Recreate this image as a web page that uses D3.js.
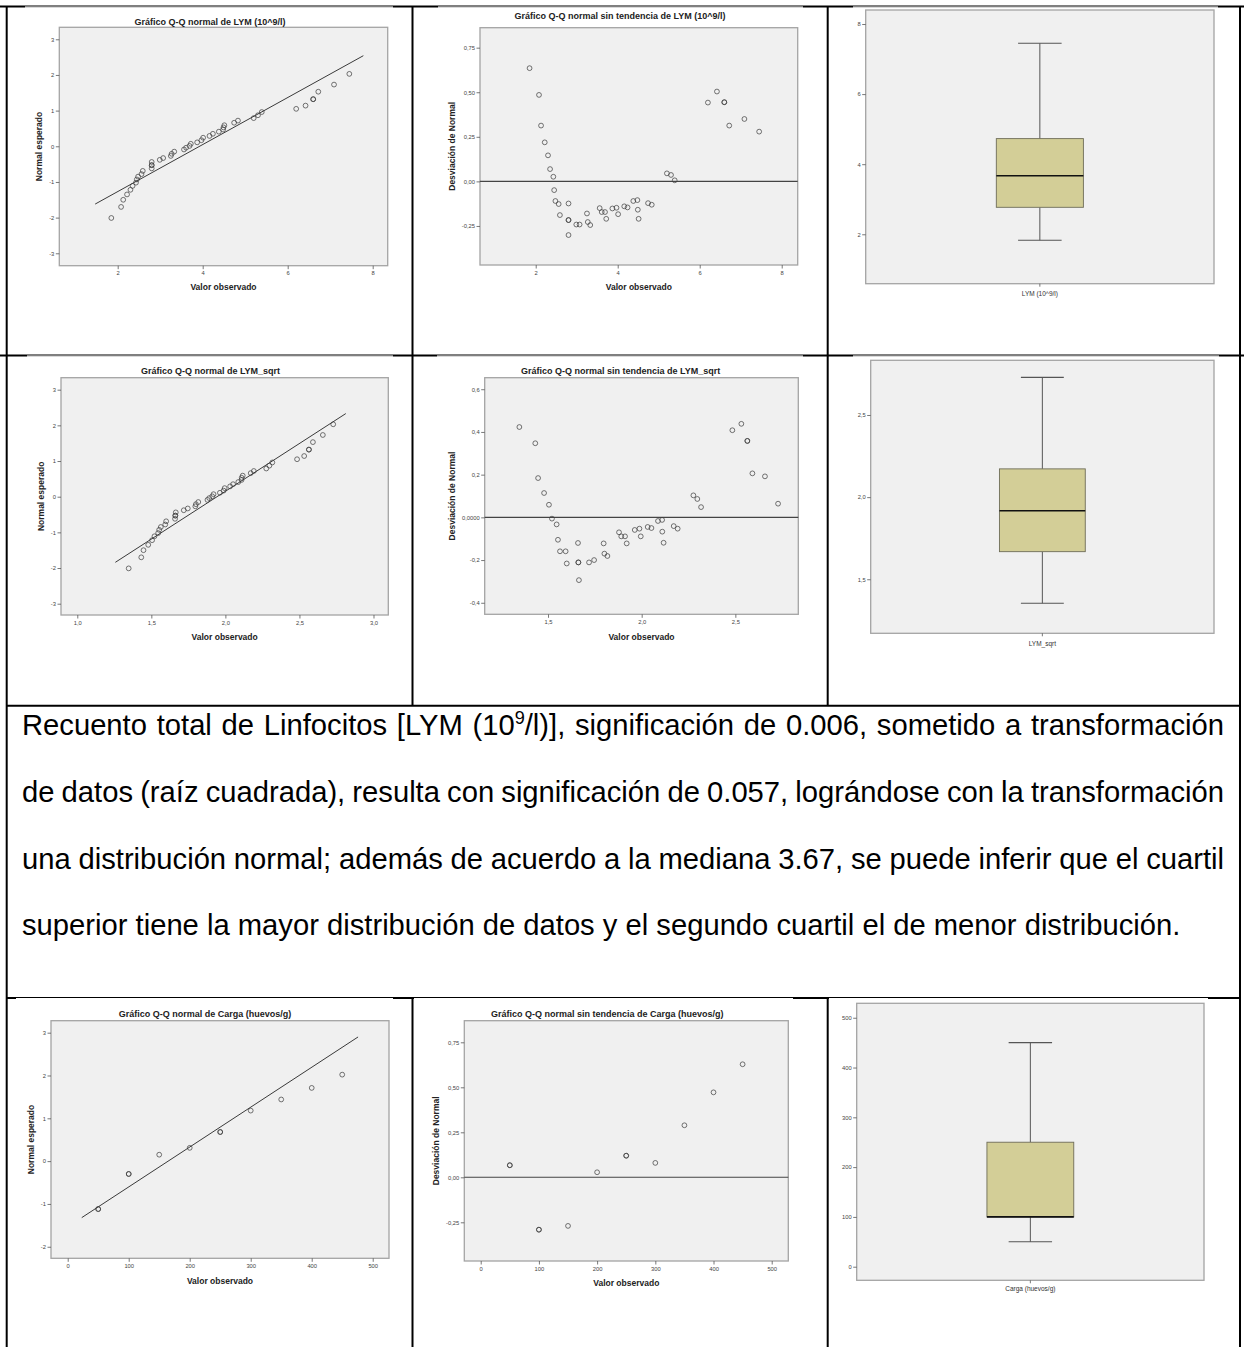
<!DOCTYPE html>
<html>
<head>
<meta charset="utf-8">
<script src="https://cdn.jsdelivr.net/npm/d3@7"></script>
<style>
  body { margin: 0; background: #fff; }
  svg { display: block; }
</style>
</head>
<body>
<script>
// ---- datos ----
// LYM (10^9/l): valor observado, normal esperado, desviacion de normal
const lymObs = [1.85, 2.08, 2.13, 2.22, 2.30, 2.35, 2.43, 2.45, 2.48, 2.56, 2.59, 2.80, 2.80, 2.80, 2.80,
  2.99, 3.07, 3.25, 3.27, 3.33, 3.56, 3.61, 3.69, 3.72, 3.87, 3.97, 4.01, 4.16, 4.24, 4.38,
  4.48, 4.49, 4.51, 4.74, 4.83, 5.20, 5.30, 5.39, 6.20, 6.42, 6.60, 6.60, 6.72, 7.09, 7.45];
const lymEsp = [-2.01, -1.70, -1.50, -1.35, -1.22, -1.11, -1.02, -0.93, -0.85, -0.78, -0.69, -0.62, -0.53, -0.53, -0.44,
  -0.38, -0.33, -0.27, -0.21, -0.15, -0.09, -0.04, 0.01, 0.07, 0.11, 0.17, 0.24, 0.29, 0.35, 0.41,
  0.47, 0.53, 0.59, 0.66, 0.72, 0.79, 0.87, 0.96, 1.05, 1.14, 1.32, 1.32, 1.53, 1.73, 2.03];
const lymDesv = [0.635, 0.485, 0.313, 0.219, 0.146, 0.069, 0.026, -0.049, -0.110, -0.127, -0.189, -0.124, -0.217, -0.217, -0.301,
  -0.242, -0.242, -0.180, -0.228, -0.245, -0.150, -0.172, -0.172, -0.210, -0.152, -0.148, -0.184, -0.140, -0.146, -0.110,
  -0.105, -0.159, -0.210, -0.122, -0.131, 0.045, 0.036, 0.006, 0.442, 0.504, 0.444, 0.444, 0.313, 0.350, 0.279];

// LYM_sqrt
const sqrtObs = [1.347, 1.432, 1.447, 1.479, 1.505, 1.521, 1.546, 1.553, 1.564, 1.594, 1.600, 1.660, 1.662, 1.662, 1.665,
  1.719, 1.746, 1.797, 1.801, 1.817, 1.879, 1.891, 1.911, 1.920, 1.963, 1.988, 1.995, 2.032, 2.052, 2.087,
  2.109, 2.110, 2.117, 2.171, 2.192, 2.276, 2.297, 2.317, 2.484, 2.532, 2.564, 2.564, 2.591, 2.658, 2.728];
const sqrtDesv = [0.423, 0.347, 0.184, 0.114, 0.059, -0.006, -0.033, -0.105, -0.159, -0.159, -0.216, -0.120, -0.211, -0.211, -0.294,
  -0.211, -0.200, -0.122, -0.170, -0.181, -0.070, -0.089, -0.089, -0.122, -0.059, -0.053, -0.089, -0.045, -0.050, -0.017,
  -0.012, -0.067, -0.119, -0.041, -0.053, 0.103, 0.086, 0.048, 0.408, 0.438, 0.358, 0.358, 0.206, 0.192, 0.064];

// Carga (huevos/g)
const cargaObs = [50, 50, 100, 100, 150, 200, 250, 250, 300, 350, 400, 450];
const cargaEsp = [-1.12, -1.12, -0.30, -0.30, 0.15, 0.31, 0.68, 0.68, 1.18, 1.44, 1.71, 2.02];
const cargaDesv = [0.067, 0.067, -0.291, -0.291, -0.270, 0.028, 0.120, 0.120, 0.080, 0.289, 0.472, 0.628];

// rectas de referencia (extremos en unidades de datos)
const lymRecta = [[1.47, -1.62], [7.78, 2.54]];
const sqrtRecta = [[1.257, -1.84], [2.813, 2.33]];
const cargaRecta = [[23, -1.32], [476, 2.90]];

// cajas: minimo, Q1, mediana, Q3, maximo
const lymCaja = [1.83, 2.77, 3.67, 4.73, 7.45];
const sqrtCaja = [1.354, 1.668, 1.917, 2.172, 2.729];
const cargaCaja = [50, 100, 100, 250, 450];

// marcas de los ejes
const qqYTicks = [-3, -2, -1, 0, 1, 2, 3];
const qqCargaYTicks = [-2, -1, 0, 1, 2, 3];
const lymXTicks = [2, 4, 6, 8];
const sqrtXTicks = [1.0, 1.5, 2.0, 2.5, 3.0];
const sqrtXLabels = ["1,0", "1,5", "2,0", "2,5", "3,0"];
const sqrtDtXTicks = [1.5, 2.0, 2.5];
const sqrtDtXLabels = ["1,5", "2,0", "2,5"];
const cargaXTicks = [0, 100, 200, 300, 400, 500];
const desvYTicks = [-0.25, 0, 0.25, 0.5, 0.75];
const desvYLabels = ["-0,25", "0,00", "0,25", "0,50", "0,75"];
const sqrtDesvYTicks = [-0.4, -0.2, 0, 0.2, 0.4, 0.6];
const sqrtDesvYLabels = ["-0,4", "-0,2", "0,0000", "0,2", "0,4", "0,6"];
const lymCajaTicks = [2, 4, 6, 8];
const sqrtCajaTicks = [1.5, 2.0, 2.5];
const sqrtCajaLabels = ["1,5", "2,0", "2,5"];
const cargaCajaTicks = [0, 100, 200, 300, 400, 500];

const parrafo = [
  [["Recuento total de Linfocitos [LYM (10"], ["9", true], ["/l)], significación de 0.006, sometido a transformación"]],
  [["de datos (raíz cuadrada), resulta con significación de 0.057, lográndose con la transformación"]],
  [["una distribución normal; además de acuerdo a la mediana 3.67, se puede inferir que el cuartil"]],
  [["superior tiene la mayor distribución de datos y el segundo cuartil el de menor distribución."]]
];

// ---- lienzo ----
const FONT = "'Liberation Sans', Arial, Helvetica, sans-serif";
const svg = d3.select("body").append("svg")
  .attr("width", 1244)
  .attr("height", 1347)
  .style("font-family", FONT);

// bordes de la tabla
const bordes = [
  [0, 6.5, 1244, 6.5], [0, 355.5, 1244, 355.5], [6.7, 705.7, 1240, 705.7], [6.7, 998, 1240, 998],
  [6.7, 6.5, 6.7, 1347], [1240, 6.5, 1240, 1347],
  [412.5, 6.5, 412.5, 705.7], [827.7, 6.5, 827.7, 705.7],
  [412.5, 998, 412.5, 1347], [827.7, 998, 827.7, 1347]
];
svg.append("g").selectAll("line")
  .data(bordes)
  .join("line")
  .attr("x1", d => d[0]).attr("y1", d => d[1])
  .attr("x2", d => d[2]).attr("y2", d => d[3])
  .attr("stroke", "#000")
  .attr("stroke-width", 2);

// las imagenes pegadas tapan media linea superior
const parches = [
  [25, 6.5, 393], [438, 6.5, 803], [853, 6.5, 1218],
  [27, 355.5, 393], [437, 355.5, 803], [853, 355.5, 1219],
  [16, 998, 393], [414, 998, 793], [829, 998, 1208]
];
svg.append("g").selectAll("rect")
  .data(parches)
  .join("rect")
  .attr("x", d => d[0]).attr("y", d => d[1])
  .attr("width", d => d[2] - d[0]).attr("height", 1.2)
  .attr("fill", "#fff");

const charts = [
  { type: "qq", title: "Gráfico Q-Q normal de LYM (10^9/l)", xs: lymObs, ys: lymEsp, recta: lymRecta,
    box: [59.3, 387.7, 27.3, 265.7], xDom: [0.626, 8.353], yDom: [-3.348, 3.336],
    xTicks: lymXTicks, yTicks: qqYTicks, ylabel: "Normal esperado",
    titlePos: [210, 24.7], xlabY: 290, ylabX: 42 },
  { type: "dt", title: "Gráfico Q-Q normal sin tendencia de LYM (10^9/l)", xs: lymObs, ys: lymDesv,
    box: [480, 797.7, 27.7, 265], xDom: [0.641, 8.39], yDom: [-0.469, 0.862],
    xTicks: lymXTicks, yTicks: desvYTicks, yLabels: desvYLabels, ylabel: "Desviación de Normal",
    titlePos: [620, 18.7], xlabY: 290, ylabX: 455 },
  { type: "box", stats: lymCaja, cat: "LYM (10^9/l)",
    box: [865.7, 1214, 10, 283.7], yDom: [0.59, 8.40], yTicks: lymCajaTicks, catY: 295.6 },
  { type: "qq", title: "Gráfico Q-Q normal de LYM_sqrt", xs: sqrtObs, ys: lymEsp, recta: sqrtRecta,
    box: [61, 388.3, 377.7, 615], xDom: [0.89, 3.10], yDom: [-3.317, 3.336],
    xTicks: sqrtXTicks, xLabels: sqrtXLabels, yTicks: qqYTicks, ylabel: "Normal esperado",
    titlePos: [210.5, 374], xlabY: 639.5, ylabX: 44 },
  { type: "dt", title: "Gráfico Q-Q normal sin tendencia de LYM_sqrt", xs: sqrtObs, ys: sqrtDesv,
    box: [484.7, 798.3, 377.7, 614.3], xDom: [1.162, 2.836], yDom: [-0.454, 0.654],
    xTicks: sqrtDtXTicks, xLabels: sqrtDtXLabels, yTicks: sqrtDesvYTicks, yLabels: sqrtDesvYLabels,
    ylabel: "Desviación de Normal", titlePos: [620.7, 374], xlabY: 639.5, ylabX: 454.7 },
  { type: "box", stats: sqrtCaja, cat: "LYM_sqrt",
    box: [870.7, 1214, 360.3, 633.3], yDom: [1.171, 2.833], yTicks: sqrtCajaTicks, yLabels: sqrtCajaLabels, catY: 645.5 },
  { type: "qq", title: "Gráfico Q-Q normal de Carga (huevos/g)", xs: cargaObs, ys: cargaEsp, recta: cargaRecta,
    box: [51, 389, 1020.7, 1258.3], xDom: [-27.4, 526.7], yDom: [-2.27, 3.28],
    xTicks: cargaXTicks, yTicks: qqCargaYTicks, ylabel: "Normal esperado",
    titlePos: [205, 1017], xlabY: 1283.7, ylabX: 33.7 },
  { type: "dt", title: "Gráfico Q-Q normal sin tendencia de Carga (huevos/g)", xs: cargaObs, ys: cargaDesv,
    box: [464.3, 788.3, 1020.7, 1261], xDom: [-28.2, 528.5], yDom: [-0.465, 0.87],
    xTicks: cargaXTicks, yTicks: desvYTicks, yLabels: desvYLabels, ylabel: "Desviación de Normal",
    titlePos: [607.3, 1017], xlabY: 1286.3, ylabX: 438.7 },
  { type: "box", stats: cargaCaja, cat: "Carga (huevos/g)",
    box: [856.7, 1204, 1003.3, 1280.3], yDom: [-27.3, 529], yTicks: cargaCajaTicks, catY: 1291.3 }
];

function styleAxis(a) {
  a.select(".domain").remove();
  a.attr("font-size", 5.8).attr("font-family", FONT);
  a.selectAll("line").attr("stroke", "#555").attr("stroke-width", 0.8);
  a.selectAll("text").attr("fill", "#444");
}

charts.forEach(c => {
  const [x0, x1, y0, y1] = c.box;
  const g = svg.append("g");

  g.append("rect")
    .attr("x", x0).attr("y", y0)
    .attr("width", x1 - x0).attr("height", y1 - y0)
    .attr("fill", "#f0f0f0")
    .attr("stroke", "#a4a4a4")
    .attr("stroke-width", 1.3);

  const y = d3.scaleLinear().domain(c.yDom).range([y1, y0]);

  g.append("g")
    .attr("transform", `translate(${x0},0)`)
    .call(d3.axisLeft(y).tickValues(c.yTicks)
      .tickFormat((d, i) => c.yLabels ? c.yLabels[i] : d)
      .tickSize(3.5).tickPadding(1.5))
    .call(styleAxis);

  if (c.type === "box") {
    const xb = d3.scaleBand().domain([c.cat]).range([x0, x1]).paddingInner(0).paddingOuter(1.5);
    const bw = xb.bandwidth();
    const cx = xb(c.cat) + bw / 2;
    const [mn, q1, med, q3, mx] = c.stats;

    g.append("g")
      .attr("transform", `translate(0,${y1})`)
      .call(d3.axisBottom(xb).tickSize(3).tickPadding(2.5))
      .call(styleAxis)
      .call(a => a.selectAll("text").remove());

    g.append("text")
      .attr("x", cx).attr("y", c.catY)
      .attr("text-anchor", "middle")
      .attr("font-size", 6.5)
      .attr("fill", "#333")
      .text(c.cat);

    const bigotes = [[mn, q1], [q3, mx]];
    g.selectAll(".bigote").data(bigotes).join("line")
      .attr("x1", cx).attr("x2", cx)
      .attr("y1", d => y(d[0])).attr("y2", d => y(d[1]))
      .attr("stroke", "#555").attr("stroke-width", 1);
    g.selectAll(".tope").data([mn, mx]).join("line")
      .attr("x1", cx - bw / 4).attr("x2", cx + bw / 4)
      .attr("y1", d => y(d)).attr("y2", d => y(d))
      .attr("stroke", "#555").attr("stroke-width", 1.1);
    g.append("rect")
      .attr("x", xb(c.cat)).attr("y", y(q3))
      .attr("width", bw).attr("height", y(q1) - y(q3))
      .attr("fill", "#d3ce97")
      .attr("stroke", "#6e6c58").attr("stroke-width", 0.9);
    g.append("line")
      .attr("x1", xb(c.cat)).attr("x2", xb(c.cat) + bw)
      .attr("y1", y(med)).attr("y2", y(med))
      .attr("stroke", "#111").attr("stroke-width", 1.6);
    return;
  }

  const x = d3.scaleLinear().domain(c.xDom).range([x0, x1]);

  g.append("g")
    .attr("transform", `translate(0,${y1})`)
    .call(d3.axisBottom(x).tickValues(c.xTicks)
      .tickFormat((d, i) => c.xLabels ? c.xLabels[i] : d)
      .tickSize(3.5).tickPadding(2))
    .call(styleAxis);

  g.append("text")
    .attr("x", c.titlePos[0]).attr("y", c.titlePos[1])
    .attr("text-anchor", "middle")
    .attr("font-size", 9).attr("font-weight", "bold")
    .attr("fill", "#222")
    .text(c.title);

  g.append("text")
    .attr("x", (x0 + x1) / 2).attr("y", c.xlabY)
    .attr("text-anchor", "middle")
    .attr("font-size", 8.5).attr("font-weight", "bold")
    .attr("fill", "#222")
    .text("Valor observado");

  g.append("text")
    .attr("transform", `translate(${c.ylabX},${(y0 + y1) / 2}) rotate(-90)`)
    .attr("text-anchor", "middle")
    .attr("font-size", 8.5).attr("font-weight", "bold")
    .attr("fill", "#222")
    .text(c.ylabel);

  if (c.type === "qq") {
    g.append("path")
      .datum(c.recta)
      .attr("d", d3.line().x(d => x(d[0])).y(d => y(d[1])))
      .attr("fill", "none")
      .attr("stroke", "#3a3a3a")
      .attr("stroke-width", 1);
  } else {
    g.append("line")
      .attr("x1", x0).attr("x2", x1)
      .attr("y1", y(0)).attr("y2", y(0))
      .attr("stroke", "#444")
      .attr("stroke-width", 1.1);
  }

  g.append("g").selectAll("circle")
    .data(d3.range(c.xs.length))
    .join("circle")
    .attr("cx", i => x(c.xs[i]))
    .attr("cy", i => y(c.ys[i]))
    .attr("r", 2.4)
    .attr("fill", "none")
    .attr("stroke", "#3c3c3c")
    .attr("stroke-opacity", 0.75)
    .attr("stroke-width", 0.95);
});

// ---- texto justificado ----
const FS = 29.2;
const baselines = [735, 802, 868.5, 935];
const xIni = 22, xFin = 1224;

parrafo.forEach((segs, li) => {
  const t = svg.append("text")
    .attr("x", xIni).attr("y", baselines[li])
    .attr("font-size", FS)
    .attr("fill", "#000");
  segs.forEach(([s, sup]) => {
    if (sup) {
      t.append("tspan").attr("dy", -FS * 0.36).attr("font-size", FS * 0.62).text(s);
    } else {
      const sp = t.append("tspan").text(s);
      if (t.selectAll("tspan").size() > 1) sp.attr("dy", FS * 0.36);
    }
  });
  if (li < parrafo.length - 1) {
    const natural = t.node().getComputedTextLength();
    const huecos = segs.map(d => d[0]).join("").split(" ").length - 1;
    t.attr("word-spacing", (xFin - xIni - natural) / huecos);
    const ajustado = t.node().getComputedTextLength();
    if (Math.abs(ajustado - natural) < 0.5) {
      t.attr("word-spacing", null)
        .attr("textLength", xFin - xIni)
        .attr("lengthAdjust", "spacing");
    }
  }
});
</script>
</body>
</html>
